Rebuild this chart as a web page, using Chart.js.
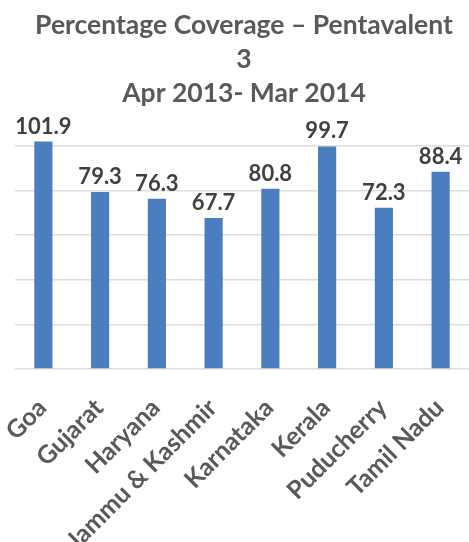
<!DOCTYPE html>
<html lang="en">
<head>
  <meta charset="UTF-8">
  <title>Percentage Coverage – Pentavalent 3</title>
  <script src="https://cdn.jsdelivr.net/npm/chart.js"></script>
  <style>
    html, body {
      margin: 0;
      padding: 0;
      background: #ffffff;
      overflow: hidden;
    }
    .wrap {
      width: 469px;
      height: 542px;
    }
  </style>
</head>
<body>
  <div class="wrap">
    <canvas id="chart" width="469" height="542"></canvas>
  </div>

  <script>
    const states = ["Goa", "Gujarat", "Haryana", "Jammu & Kashmir", "Karnataka", "Kerala", "Puducherry", "Tamil Nadu"];
    const coverage = [101.9, 79.3, 76.3, 67.7, 80.8, 99.7, 72.3, 88.4];
    const titleLines = ["Percentage Coverage – Pentavalent", "3", "Apr 2013- Mar 2014"];

    // value labels drawn above each bar
    const barLabels = {
      id: "barLabels",
      afterDatasetsDraw(chart) {
        const ctx = chart.ctx;
        const meta = chart.getDatasetMeta(0);
        ctx.save();
        ctx.font = "bold 22px Lato";
        ctx.fillStyle = "#404040";
        ctx.textAlign = "center";
        ctx.textBaseline = "alphabetic";
        meta.data.forEach((bar, i) => {
          ctx.fillText(coverage[i].toFixed(1), bar.x, bar.y - 8);
        });
        ctx.restore();
      }
    };

    const ctx = document.getElementById("chart").getContext("2d");
    new Chart(ctx, {
      type: "bar",
      data: {
        labels: states,
        datasets: [{
          data: coverage,
          backgroundColor: "#4A7EBF",
          barPercentage: 0.32,
          categoryPercentage: 1
        }]
      },
      options: {
        responsive: false,
        animation: false,
        layout: { padding: { left: 15, right: -4, top: 0, bottom: 0 } },
        plugins: {
          legend: { display: false },
          tooltip: { enabled: false },
          title: {
            display: true,
            text: titleLines,
            color: "#595959",
            font: { family: "Lato", size: 26.5, weight: "bold", lineHeight: 1.29 },
            padding: { top: 8, bottom: 4 }
          }
        },
        scales: {
          x: {
            grid: { display: false },
            border: { display: false },
            ticks: {
              color: "#595959",
              font: { family: "Lato", size: 25, weight: "bold" },
              minRotation: 45,
              maxRotation: 45,
              padding: 16,
              labelOffset: -1
            },
            // long labels run off the bottom edge, as in the original
            afterFit: scale => {
              scale.height = 173;
              scale.paddingLeft = 0;
              scale.paddingRight = 0;
            }
          },
          y: {
            min: 0,
            max: 114,
            border: { display: false },
            grid: {
              color: c => (c.tick.value % 20 === 0 ? "#dedede" : "transparent"),
              lineWidth: 1.5,
              drawTicks: false
            },
            ticks: { display: false, stepSize: 20 }
          }
        }
      },
      plugins: [barLabels]
    });
  </script>
</body>
</html>
